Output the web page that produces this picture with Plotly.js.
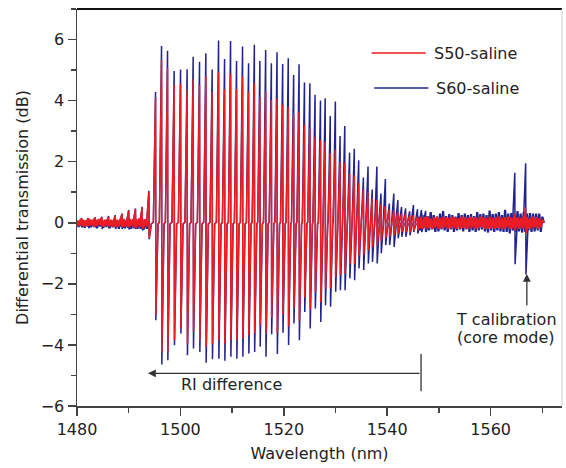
<!DOCTYPE html>
<html><head><meta charset="utf-8">
<script src="https://cdn.plot.ly/plotly-3.0.1.min.js"></script>
<style>html,body{margin:0;padding:0;background:#fff}#chart{width:566px;height:468px}</style>
</head><body><div id="chart"></div>
<script>
// Resonance wavelengths (nm)
const resWavelength = [1480.93,1482.23,1483.53,1484.83,1486.13,1487.43,1488.73,1490.03,1491.33,1492.63,
1493.93,1495.22,1496.38,1497.54,1498.82,1500.06,1501.33,1502.50,1503.73,1504.95,
1506.17,1507.41,1508.57,1509.73,1510.89,1512.05,1513.21,1514.33,1515.40,1516.52,
1517.62,1518.72,1519.81,1520.89,1521.93,1522.98,1524.02,1525.07,1526.07,1527.12,
1528.03,1529.01,1530.00,1530.91,1531.82,1532.75,1533.66,1534.51,1535.42,1536.32,
1537.12,1538.03,1538.82,1539.67,1540.44,1541.30,1542.09,1542.80,1543.58,1544.37,
1545.09,1545.88,1546.65,1547.45,1564.70,1566.80];
// S60-saline peak / dip values (dB)
const s60Peak = [0.15,0.15,0.18,0.2,0.22,0.25,0.3,0.42,0.47,0.52,
1.05,4.28,5.79,5.63,4.97,5.02,5.03,5.44,5.27,5.55,
5.02,5.97,5.36,5.95,5.30,5.77,5.22,5.83,5.30,5.66,
5.22,5.58,5.20,5.39,4.84,5.19,4.59,4.57,4.19,4.00,
4.08,3.50,3.97,2.84,3.17,2.30,2.42,2.05,1.48,1.84,
1.09,1.84,0.96,1.43,0.63,0.96,0.74,0.52,0.47,0.38,
0.58,0.44,0.42,0.39,1.64,1.95];
const s60Dip = [-0.15,-0.18,-0.15,-0.2,-0.18,-0.2,-0.2,-0.22,-0.2,-0.25,
-0.54,-3.19,-4.64,-4.50,-4.01,-3.63,-4.34,-4.12,-4.23,-4.58,
-4.47,-4.45,-4.52,-4.39,-4.45,-4.39,-4.28,-4.23,-4.06,-4.39,
-3.65,-4.30,-3.60,-4.00,-3.30,-3.85,-2.92,-3.46,-2.81,-3.25,
-2.70,-2.75,-2.26,-2.21,-2.21,-1.82,-1.88,-1.50,-1.55,-1.33,
-1.28,-1.33,-1.00,-0.73,-0.73,-0.79,-0.51,-0.46,-0.46,-0.41,
-0.30,-0.35,-0.30,-0.30,-1.36,-1.69];
// S50-saline peak / dip values (dB)
const s50Peak = [0.15,0.15,0.18,0.18,0.2,0.22,0.3,0.4,0.45,0.5,
1.0,4.10,5.33,5.08,4.51,4.55,4.37,4.70,4.51,4.79,
4.27,4.92,4.37,4.87,4.37,4.79,4.30,4.57,4.13,4.30,
4.02,4.08,3.86,3.80,3.59,3.64,3.20,3.09,2.82,2.71,
2.66,2.27,2.40,2.00,1.95,1.60,1.55,1.30,1.10,1.00,
0.80,0.75,0.60,0.55,0.45,0.40,0.35,0.30,0.30,0.25,
0.25,0.20,0.20,0.20,0.30,0.50];
const s50Dip = [-0.1,-0.1,-0.12,-0.12,-0.12,-0.15,-0.15,-0.15,-0.18,-0.2,
-0.5,-3.0,-4.23,-4.23,-3.85,-3.46,-3.96,-3.57,-3.85,-4.06,
-3.96,-3.85,-3.96,-3.85,-3.85,-3.79,-3.68,-3.63,-3.35,-3.63,
-3.10,-3.60,-3.00,-3.40,-2.80,-3.20,-2.45,-2.85,-2.30,-2.60,
-2.15,-2.15,-1.80,-1.70,-1.65,-1.35,-1.35,-1.10,-1.05,-0.90,
-0.80,-0.75,-0.60,-0.50,-0.45,-0.40,-0.35,-0.30,-0.30,-0.30,
-0.25,-0.25,-0.20,-0.20,-0.25,-0.35];

const preStart = 1480.0, postStart = 1546.0, noiseStep = 0.3;
const s50PreNoise = [0.08,-0.1,0.1,-0.08,0.1,-0.12,0.08,-0.1,0.12,-0.08,
0.1,-0.12,0.1,-0.1,0.12,-0.08,0.1,-0.12,0.1,-0.1,
0.12,-0.1,0.1,-0.12,0.12,-0.1,0.1,-0.12,0.12,-0.1,
0.12,-0.12,0.1,-0.12,0.12,-0.1,0.12,-0.14,0.12,-0.12,
0.14,-0.12,0.12,-0.15,0.12,-0.12,0.05];
const s60PreNoise = [0.06,-0.14,0.08,-0.12,0.08,-0.16,0.06,-0.12,0.1,-0.15,
0.08,-0.14,0.08,-0.18,0.1,-0.12,0.08,-0.16,0.08,-0.14,
0.1,-0.18,0.08,-0.15,0.1,-0.16,0.08,-0.2,0.1,-0.15,
0.1,-0.18,0.08,-0.16,0.1,-0.2,0.1,-0.18,0.1,-0.2,
0.12,-0.2,0.1,-0.22,0.1,-0.2,0.05];
const s50PostNoise = [0.15,-0.18,0.12,-0.2,0.18,-0.15,0.2,-0.18,0.14,-0.2,
0.18,-0.16,0.2,-0.2,0.15,-0.18,0.2,-0.15,0.18,-0.2,
0.16,-0.18,0.2,-0.16,0.18,-0.2,0.15,-0.18,0.2,-0.17,
0.18,-0.2,0.16,-0.18,0.2,-0.15,0.18,-0.2,0.17,-0.18,
0.2,-0.16,0.18,-0.2,0.15,-0.2,0.2,-0.18,0.16,-0.2,
0.18,-0.17,0.2,-0.18,0.16,-0.2,0.18,-0.16,0.2,-0.2,
0.17,-0.18,0.2,-0.16,0.18,-0.2,0.16,-0.18,0.2,-0.17,
0.18,-0.2,0.16,-0.18,0.2,-0.16,0.18,-0.2,0.15,-0.15,0.1,0];
const s60PostNoise = [0.2,-0.25,0.3,-0.2,0.25,-0.3,0.22,-0.25,0.35,-0.22,
0.25,-0.3,0.2,-0.28,0.3,-0.22,0.38,-0.25,0.22,-0.3,
0.28,-0.22,0.25,-0.3,0.2,-0.25,0.32,-0.22,0.25,-0.28,
0.3,-0.22,0.25,-0.3,0.28,-0.25,0.22,-0.3,0.35,-0.25,
0.28,-0.22,0.3,-0.28,0.25,-0.32,0.4,-0.25,0.28,-0.3,
0.3,-0.25,0.35,-0.28,0.25,-0.3,0.42,-0.3,0.3,-0.35,
0.32,-0.25,0.3,-0.3,0.38,-0.28,0.3,-0.32,0.35,-0.3,
0.3,-0.25,0.32,-0.3,0.3,-0.28,0.3,-0.25,0.3,-0.3,0.2,0];

const seriesNames = ['S50-saline','S60-saline'];
const seriesColors = ['#ec1c24','#23238e'];

function resonanceSeries(peaks, dips){
  const x=[], y=[];
  for(let i=0;i<resWavelength.length;i++){
    const w=resWavelength[i];
    if(i>0 && w-resWavelength[i-1]>3){ x.push(null); y.push(null); }
    x.push(w-0.45, w-0.03, w+0.03, w+0.45);
    y.push(0.02, peaks[i], dips[i], -0.04);
  }
  return {x,y};
}
function noiseSeries(start, vals){
  return {x: vals.map((v,i)=>start+i*noiseStep), y: vals};
}
const font = 'DejaVu Sans, Liberation Sans, Arial, sans-serif';
const txt = '#222';
function lineTrace(d, color, name, width){
  return {type:'scatter', mode:'lines', x:d.x, y:d.y, name:name, showlegend:false,
    line:{color:color, width:width}, hoverinfo:'skip', connectgaps:false};
}
const traces = [
  lineTrace(noiseSeries(preStart, s60PreNoise), seriesColors[1], seriesNames[1], 2.2),
  lineTrace(noiseSeries(postStart, s60PostNoise), seriesColors[1], seriesNames[1], 2.2),
  lineTrace(resonanceSeries(s60Peak, s60Dip), seriesColors[1], seriesNames[1], 1.5),
  lineTrace(noiseSeries(preStart, s50PreNoise), seriesColors[0], seriesNames[0], 2.2),
  lineTrace(noiseSeries(postStart, s50PostNoise), seriesColors[0], seriesNames[0], 2.2),
  lineTrace(resonanceSeries(s50Peak, s50Dip), seriesColors[0], seriesNames[0], 1.5)
];

const layout = {
  width:566, height:468,
  margin:{l:77, r:4, t:9, b:62},
  paper_bgcolor:'#ffffff', plot_bgcolor:'#ffffff',
  font:{family:font, size:16, color:txt},
  showlegend:false,
  xaxis:{range:[1480,1573.8], tick0:1480, dtick:20, ticks:'outside', ticklen:8, tickwidth:1.5,
    tickcolor:'#444', showline:true, linecolor:'#444', linewidth:1.5, showgrid:false, zeroline:false,
    minor:{dtick:10, ticks:'outside', ticklen:5, tickwidth:1.5, tickcolor:'#444', showgrid:false},
    tickfont:{family:font, size:16, color:txt},
    title:{text:'Wavelength (nm)', font:{family:font, size:16, color:txt}, standoff:10}},
  yaxis:{range:[-6,7], tick0:0, dtick:2, ticks:'outside', ticklen:8, tickwidth:1.5,
    tickcolor:'#444', showline:true, linecolor:'#444', linewidth:1.5, showgrid:false, zeroline:false,
    minor:{dtick:1, ticks:'outside', ticklen:5, tickwidth:1.5, tickcolor:'#444', showgrid:false},
    tickfont:{family:font, size:16, color:txt},
    title:{text:'Differential transmission (dB)', font:{family:font, size:16, color:txt}, standoff:8}},
  shapes:[
    {type:'line', xref:'paper', yref:'paper', x0:0, x1:1, y0:1, y1:1, line:{color:'#111', width:2}},
    {type:'line', xref:'paper', yref:'paper', x0:1, x1:1, y0:0, y1:1, line:{color:'#cfcfcf', width:1}},
    {type:'line', xref:'paper', yref:'paper', x0:0.6074, x1:0.719, y0:0.889, y1:0.889, line:{color:seriesColors[0], width:1.5}},
    {type:'line', xref:'paper', yref:'paper', x0:0.613, x1:0.7245, y0:0.801, y1:0.801, line:{color:seriesColors[1], width:1.5}},
    {type:'line', xref:'x', yref:'y', x0:1546.54, x1:1546.54, y0:-4.30, y1:-5.52, line:{color:'#333', width:1.3}}
  ],
  annotations:[
    {xref:'paper', yref:'paper', x:0.7328, y:0.889, xanchor:'left', yanchor:'middle', text:seriesNames[0], showarrow:false, font:{size:16, color:txt}},
    {xref:'paper', yref:'paper', x:0.736, y:0.801, xanchor:'left', yanchor:'middle', text:seriesNames[1], showarrow:false, font:{size:16, color:txt}},
    {xref:'x', yref:'y', x:1493.73, y:-4.93, ax:1546.54, ay:-4.93, axref:'x', ayref:'y', text:'', showarrow:true, arrowhead:2, arrowsize:1.2, arrowwidth:1.3, arrowcolor:'#333'},
    {xref:'x', yref:'y', x:1509.8, y:-5.29, text:'RI difference', showarrow:false, font:{size:16, color:txt}},
    {xref:'x', yref:'y', x:1567.0, y:-1.68, ax:1567.0, ay:-2.75, axref:'x', ayref:'y', text:'', showarrow:true, arrowhead:2, arrowsize:1.2, arrowwidth:1.3, arrowcolor:'#333'},
    {xref:'x', yref:'y', x:1563.06, y:-3.173, text:'T calibration', showarrow:false, font:{size:16, color:txt}},
    {xref:'x', yref:'y', x:1563.06, y:-3.763, text:'(core mode)', showarrow:false, font:{size:16, color:txt}}
  ]
};
Plotly.newPlot('chart', traces, layout, {displayModeBar:false, staticPlot:true});
</script></body></html>
